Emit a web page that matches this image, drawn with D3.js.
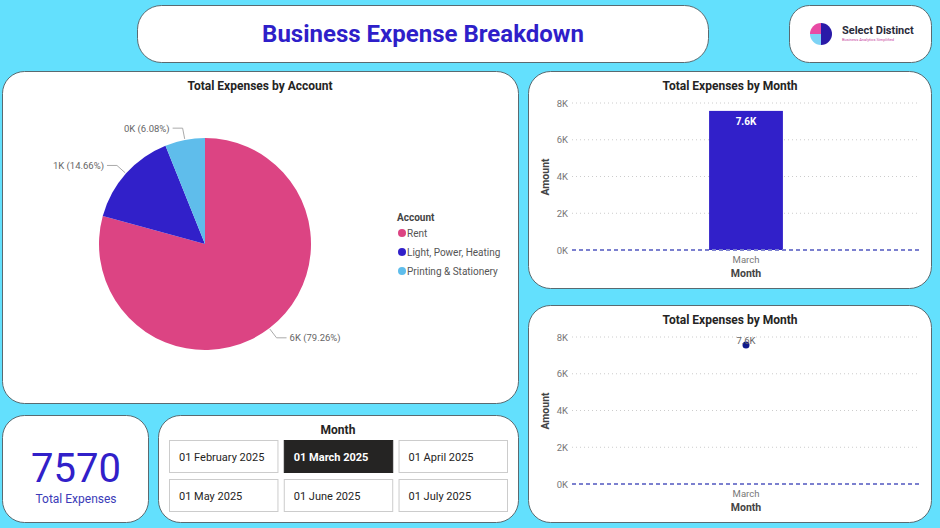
<!DOCTYPE html>
<html>
<head>
<meta charset="utf-8">
<script src="https://cdn.jsdelivr.net/npm/d3@7"></script>
<style>
  body { margin: 0; background: #63e0fd; }
  svg { display: block; }
  text { font-family: "Roboto", "DejaVu Sans", sans-serif; }
</style>
</head>
<body>
<script>
// Data

var accounts = ["Rent", "Light, Power, Heating", "Printing & Stationery"];
var accountValues = [6000, 1110, 460];
var accountColors = ["#dc4483", "#3120c9", "#5fbdeb"];

var months = ["March"];
var monthTotals = [7570];
var yTicks = [0, 2000, 4000, 6000, 8000];

var slicerMonths = ["01 February 2025", "01 March 2025", "01 April 2025",
                    "01 May 2025", "01 June 2025", "01 July 2025"];
var selectedMonth = "01 March 2025";

var totalExpenses = d3.sum(accountValues);

var W = 940, H = 528;

var svg = d3.select("body").append("svg")
    .attr("width", W)
    .attr("height", H);

// Cards
function card(x, y, w, h, r) {
  return svg.append("rect")
      .attr("x", x).attr("y", y)
      .attr("width", w).attr("height", h)
      .attr("rx", r).attr("ry", r)
      .attr("fill", "#fff")
      .attr("stroke", "#5a6a70")
      .attr("stroke-width", 1);
}

card(137.5, 5.5, 571, 57, 24);
card(789.5, 5.5, 142, 57, 20);
card(2.5, 71.5, 516, 332, 22);
card(528.5, 71.5, 403, 217, 22);
card(528.5, 305.5, 403, 217, 22);
card(2.5, 415.5, 146, 107, 22);
card(158.5, 415.5, 360, 107, 22);

// Title
svg.append("text")
    .attr("x", 423).attr("y", 42)
    .attr("text-anchor", "middle")
    .attr("font-size", 24)
    .attr("font-weight", "bold")
    .attr("fill", "#2f1fc9")
    .text("Business Expense Breakdown");

// Logo
var logo = svg.append("g").attr("transform", "translate(821,34)");
logo.append("path")
    .attr("d", "M0,-11 A11,11 0 0,0 -11,0 L0,0 Z")
    .attr("fill", "#e84aa4");
logo.append("path")
    .attr("d", "M-11,0 A11,11 0 0,0 0,11 L0,0 Z")
    .attr("fill", "#7dd3f5");
logo.append("path")
    .attr("d", "M0,-11 A11,11 0 0,1 0,11 Z")
    .attr("fill", "#2a1aa8");
logo.append("text")
    .attr("x", 21).attr("y", 0)
    .attr("font-size", 11).attr("font-weight", "bold")
    .attr("fill", "#2b2b3a")
    .text("Select Distinct");
logo.append("text")
    .attr("x", 21).attr("y", 7)
    .attr("font-size", 4)
    .attr("fill", "#c83fa0")
    .text("Business Analytics Simplified");

function chartTitle(x, y, t) {
  svg.append("text")
      .attr("x", x).attr("y", y)
      .attr("text-anchor", "middle")
      .attr("font-size", 12)
      .attr("font-weight", "bold")
      .attr("fill", "#252423")
      .text(t);
}

// Pie chart
chartTitle(260, 90, "Total Expenses by Account");

var cx = 205, cy = 244, r = 106;
var pie = d3.pie().sort(null).value(function(d) { return d; });
var arc = d3.arc().innerRadius(0).outerRadius(r);
var arcs = pie(accountValues);

var pg = svg.append("g").attr("transform", "translate(" + cx + "," + cy + ")");
pg.selectAll("path.slice")
    .data(arcs)
    .enter().append("path")
    .attr("class", "slice")
    .attr("d", arc)
    .attr("fill", function(d, i) { return accountColors[i]; });

function polar(a, rad) { return [Math.sin(a) * rad, -Math.cos(a) * rad]; }

arcs.forEach(function(d, i) {
  var mid = (d.startAngle + d.endAngle) / 2;
  var p0 = polar(mid, r + 1);
  var p1 = polar(mid, r + 12);
  var right = Math.sin(mid) > 0;
  var p2 = [p1[0] + (right ? 10 : -10), p1[1]];
  pg.append("polyline")
      .attr("points", [p0, p1, p2].map(function(p) { return p.join(","); }).join(" "))
      .attr("fill", "none")
      .attr("stroke", "#aaa")
      .attr("stroke-width", 1);
  var pct = (d.value / totalExpenses * 100).toFixed(2);
  pg.append("text")
      .attr("x", p2[0] + (right ? 3 : -3))
      .attr("y", p2[1] + 3.5)
      .attr("text-anchor", right ? "start" : "end")
      .attr("font-size", 9.5)
      .attr("fill", "#666")
      .text(Math.round(d.value / 1000) + "K (" + pct + "%)");
});

// Legend
var lg = svg.append("g").attr("transform", "translate(397,221)");
lg.append("text")
    .attr("x", 0).attr("y", 0)
    .attr("font-size", 10).attr("font-weight", "bold")
    .attr("fill", "#444")
    .text("Account");
accounts.forEach(function(a, i) {
  var yy = 12 + i * 19;
  lg.append("circle")
      .attr("cx", 5).attr("cy", yy).attr("r", 4)
      .attr("fill", accountColors[i]);
  lg.append("text")
      .attr("x", 10).attr("y", yy + 3.5)
      .attr("font-size", 10)
      .attr("fill", "#555")
      .text(a);
});

// Column / scatter charts
function monthChart(top, kind) {
  chartTitle(730, top + 19, "Total Expenses by Month");

  var x = d3.scaleBand().domain(months).range([572, 920]).padding(0.65);
  var y = d3.scaleLinear().domain([0, 8000]).range([top + 179, top + 32]);

  var g = svg.append("g");

  // grid
  g.selectAll("line.grid")
      .data(yTicks.filter(function(t) { return t > 0; }))
      .enter().append("line")
      .attr("x1", 572).attr("x2", 920)
      .attr("y1", function(d) { return y(d); })
      .attr("y2", function(d) { return y(d); })
      .attr("stroke", "#ccc")
      .attr("stroke-dasharray", "1,3");

  var yAxis = g.append("g")
      .attr("transform", "translate(568,0)")
      .call(d3.axisLeft(y).tickValues(yTicks).tickSize(0).tickPadding(0)
            .tickFormat(function(d) { return d / 1000 + "K"; }));
  yAxis.select(".domain").remove();
  yAxis.selectAll("text").attr("font-size", 9.5).attr("fill", "#777")
      .attr("font-family", "Roboto, sans-serif");

  if (kind === "bar") {
    g.selectAll("rect.bar")
        .data(monthTotals)
        .enter().append("rect")
        .attr("class", "bar")
        .attr("x", function(d, i) { return x(months[i]); })
        .attr("width", x.bandwidth())
        .attr("y", function(d) { return y(d); })
        .attr("height", function(d) { return y(0) - y(d); })
        .attr("fill", "#3120c9");
    g.selectAll("text.val")
        .data(monthTotals)
        .enter().append("text")
        .attr("class", "val")
        .attr("x", function(d, i) { return x(months[i]) + x.bandwidth() / 2; })
        .attr("y", function(d) { return y(d) + 14; })
        .attr("text-anchor", "middle")
        .attr("font-size", 10).attr("font-weight", "bold")
        .attr("fill", "#fff")
        .text(function(d) { return (d / 1000).toFixed(1) + "K"; });
  }

  // zero line
  g.append("line")
      .attr("x1", 572).attr("x2", 920)
      .attr("y1", y(0)).attr("y2", y(0))
      .attr("stroke", "#7b80cf")
      .attr("stroke-width", 2)
      .attr("stroke-dasharray", "4,3");

  if (kind === "dot") {
    g.selectAll("circle.pt")
        .data(monthTotals)
        .enter().append("circle")
        .attr("class", "pt")
        .attr("cx", function(d, i) { return x(months[i]) + x.bandwidth() / 2; })
        .attr("cy", function(d) { return y(d); })
        .attr("r", 3.5)
        .attr("fill", "#0f1a8c");
    g.selectAll("text.val")
        .data(monthTotals)
        .enter().append("text")
        .attr("class", "val")
        .attr("x", function(d, i) { return x(months[i]) + x.bandwidth() / 2; })
        .attr("y", function(d) { return y(d) - 1; })
        .attr("text-anchor", "middle")
        .attr("font-size", 9.5)
        .attr("fill", "#666")
        .text(function(d) { return (d / 1000).toFixed(1) + "K"; });
  }

  // x labels
  g.selectAll("text.xl")
      .data(months)
      .enter().append("text")
      .attr("class", "xl")
      .attr("x", function(d) { return x(d) + x.bandwidth() / 2; })
      .attr("y", top + 192)
      .attr("text-anchor", "middle")
      .attr("font-size", 9.5)
      .attr("fill", "#777")
      .text(function(d) { return d; });
  g.append("text")
      .attr("x", 746).attr("y", top + 206)
      .attr("text-anchor", "middle")
      .attr("font-size", 10.5).attr("font-weight", "bold")
      .attr("fill", "#444")
      .text("Month");
  g.append("text")
      .attr("transform", "translate(549," + (top + 106) + ") rotate(-90)")
      .attr("text-anchor", "middle")
      .attr("font-size", 10.5).attr("font-weight", "bold")
      .attr("fill", "#444")
      .text("Amount");
}

monthChart(71, "bar");
monthChart(305, "dot");

// KPI card
svg.append("text")
    .attr("x", 76).attr("y", 482)
    .attr("text-anchor", "middle")
    .attr("font-size", 40)
    .attr("fill", "#3120c9")
    .text(totalExpenses);
svg.append("text")
    .attr("x", 76).attr("y", 503)
    .attr("text-anchor", "middle")
    .attr("font-size", 12)
    .attr("fill", "#3b3bb8")
    .text("Total Expenses");

// Slicer
chartTitle(338, 434, "Month");
var bx = d3.scaleBand().domain([0, 1, 2]).range([169, 507]).paddingInner(0.055);
slicerMonths.forEach(function(m, i) {
  var col = i % 3, row = Math.floor(i / 3);
  var sel = m === selectedMonth;
  var yy = 440 + row * 39;
  svg.append("rect")
      .attr("x", bx(col) + 0.5).attr("y", yy + 0.5)
      .attr("width", bx.bandwidth()).attr("height", 32)
      .attr("fill", sel ? "#252423" : "#fff")
      .attr("stroke", sel ? "#252423" : "#ccc");
  svg.append("text")
      .attr("x", bx(col) + 10).attr("y", yy + 21)
      .attr("font-size", 11)
      .attr("font-weight", sel ? "bold" : "normal")
      .attr("fill", sel ? "#fff" : "#252423")
      .text(m);
});
</script>
</body>
</html>
